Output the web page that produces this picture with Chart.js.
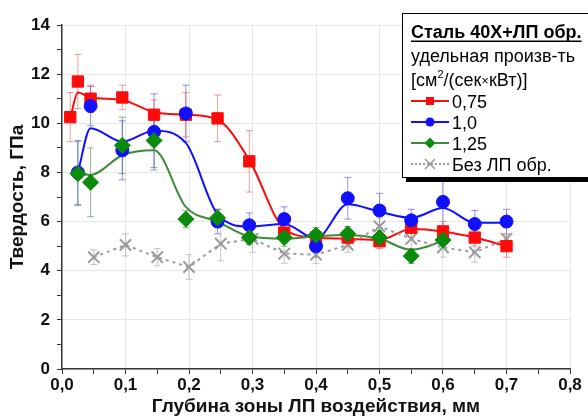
<!DOCTYPE html>
<html>
<head>
    <title>Твердость</title>
    <script src="https://cdn.jsdelivr.net/npm/chart.js"></script>
    <style>
        body { margin: 0; background: #fff; }
    </style>
</head>
<body>
    <canvas id="hardChart" width="588" height="418"></canvas>
    <script>
        // depth, mm
        const redX   = [0.013, 0.025, 0.045, 0.095, 0.145, 0.195, 0.245, 0.295, 0.35, 0.4, 0.45, 0.5, 0.55, 0.6, 0.65, 0.7];
        const redY   = [10.25, 11.7, 11.0, 11.05, 10.35, 10.35, 10.2, 8.45, 5.55, 5.35, 5.35, 5.2, 5.75, 5.6, 5.35, 5.0];
        const redErr = [1.0, 1.1, 0.55, 0.5, 0.6, 0.9, 0.95, 1.25, 0.35, 0.3, 0.35, 0.3, 0.4, 0.4, 0.35, 0.45];
        const redFit = [10.2, 11.25, 11.05, 10.95, 10.45, 10.35, 10.15, 8.5, 5.7, 5.35, 5.3, 5.25, 5.7, 5.6, 5.35, 5.0];

        const blueX   = [0.025, 0.045, 0.095, 0.145, 0.195, 0.245, 0.295, 0.35, 0.4, 0.45, 0.5, 0.55, 0.6, 0.65, 0.7];
        const blueY   = [8.0, 10.7, 8.9, 9.65, 10.4, 6.0, 5.85, 6.1, 5.0, 6.95, 6.45, 6.05, 6.8, 5.9, 6.0];
        const blueErr = [1.3, 0.8, 1.2, 1.55, 1.15, 0.5, 0.5, 0.5, 0.45, 0.85, 0.7, 0.45, 1.2, 0.55, 0.5];
        const blueFit = [8.0, 9.8, 9.25, 9.7, 9.2, 6.3, 5.8, 5.9, 5.3, 6.7, 6.4, 6.15, 6.55, 5.95, 5.95];

        const greenX   = [0.025, 0.045, 0.095, 0.145, 0.195, 0.245, 0.295, 0.35, 0.4, 0.45, 0.5, 0.55, 0.6];
        const greenY   = [7.95, 7.6, 9.1, 9.3, 6.1, 6.15, 5.35, 5.35, 5.45, 5.5, 5.35, 4.6, 5.25];
        const greenErr = [1.3, 1.4, 1.15, 1.1, 0.35, 0.35, 0.3, 0.35, 0.3, 0.3, 0.3, 0.3, 0.35];
        const greenFit = [7.95, 7.9, 8.7, 8.9, 6.6, 6.0, 5.4, 5.3, 5.4, 5.45, 5.3, 4.85, 5.2];

        const grayX   = [0.05, 0.1, 0.15, 0.2, 0.25, 0.3, 0.35, 0.4, 0.45, 0.5, 0.55, 0.6, 0.65, 0.7];
        const grayY   = [4.55, 5.05, 4.55, 4.15, 5.1, 5.3, 4.7, 4.65, 5.05, 5.8, 5.3, 4.95, 4.75, 5.3];
        const grayErr = [0.3, 0.45, 0.35, 0.5, 0.7, 0.55, 0.4, 0.35, 0.3, 0.35, 0.45, 0.4, 0.4, 0.5];

        const legendTitle = 'Сталь 40Х+ЛП обр.';
        const legendSub1 = 'удельная произв-ть';
        const legendLabels = ['0,75', '1,0', '1,25', 'Без ЛП обр.'];

        const RED = '#ff0a0a', BLUE = '#1010ff', GREEN = '#0b8a0b', GREENLINE = '#3f8a3a', GRAY = '#9a9a9a';
        const FONT = "'Liberation Sans', Arial, sans-serif";

        const pts = (xs, ys) => xs.map((x, i) => ({ x: x, y: ys[i] }));

        const errorBars = {
            id: 'errorBars',
            beforeDatasetsDraw(chart) {
                const ctx = chart.ctx, ys = chart.scales.y;
                chart.data.datasets.forEach((ds, i) => {
                    if (!ds.errors) return;
                    const meta = chart.getDatasetMeta(i);
                    ctx.save();
                    ctx.strokeStyle = ds.errColor;
                    ctx.lineWidth = 1;
                    meta.data.forEach((el, j) => {
                        const v = ds.data[j].y, e = ds.errors[j];
                        const top = ys.getPixelForValue(v + e), bot = ys.getPixelForValue(v - e);
                        ctx.beginPath();
                        ctx.moveTo(el.x, top); ctx.lineTo(el.x, bot);
                        ctx.moveTo(el.x - 3.5, top); ctx.lineTo(el.x + 3.5, top);
                        ctx.moveTo(el.x - 3.5, bot); ctx.lineTo(el.x + 3.5, bot);
                        ctx.stroke();
                    });
                    ctx.restore();
                });
            }
        };

        function marker(ctx, style, x, y, color) {
            ctx.save();
            ctx.fillStyle = color;
            ctx.strokeStyle = color;
            ctx.beginPath();
            if (style === 'rect') {
                ctx.fillRect(x - 4, y - 4, 8, 8);
            } else if (style === 'circle') {
                ctx.arc(x, y, 4.5, 0, Math.PI * 2); ctx.fill();
            } else if (style === 'rectRot') {
                ctx.moveTo(x, y - 5.5); ctx.lineTo(x + 5.5, y); ctx.lineTo(x, y + 5.5); ctx.lineTo(x - 5.5, y); ctx.closePath(); ctx.fill();
            } else {
                ctx.lineWidth = 1.5;
                ctx.moveTo(x - 5, y - 5); ctx.lineTo(x + 5, y + 5);
                ctx.moveTo(x + 5, y - 5); ctx.lineTo(x - 5, y + 5); ctx.stroke();
            }
            ctx.restore();
        }

        const boxLegend = {
            id: 'boxLegend',
            afterDraw(chart) {
                const ctx = chart.ctx;
                const bx = 402, by = 13, bw = 200, bh = 164;
                ctx.save();
                ctx.fillStyle = '#000';
                ctx.fillRect(bx + 4, by + 5, bw, bh);
                ctx.fillStyle = '#fff';
                ctx.fillRect(bx, by, bw, bh);
                ctx.strokeStyle = '#000';
                ctx.lineWidth = 1;
                ctx.strokeRect(bx + 0.5, by + 0.5, bw, bh);

                const tx = 411;
                ctx.fillStyle = '#000';
                ctx.textBaseline = 'alphabetic';
                ctx.font = 'bold 18px ' + FONT;
                ctx.fillText(legendTitle, tx, 38);
                const tw = ctx.measureText(legendTitle).width;
                ctx.fillRect(tx, 40.5, tw, 1.5);

                ctx.font = '18px ' + FONT;
                ctx.fillText(legendSub1, tx, 62);
                let cx = tx;
                ctx.fillText('[см', cx, 86); cx += ctx.measureText('[см').width;
                ctx.font = '11px ' + FONT;
                ctx.fillText('2', cx, 78); cx += ctx.measureText('2').width;
                ctx.font = '18px ' + FONT;
                ctx.fillText('/(сек', cx, 86); cx += ctx.measureText('/(сек').width;
                ctx.font = '13px ' + FONT;
                ctx.fillText('×', cx, 85); cx += ctx.measureText('×').width;
                ctx.font = '18px ' + FONT;
                ctx.fillText('кВт)]', cx, 86);

                const rows = [
                    { c: RED, s: 'rect', dash: [] },
                    { c: BLUE, s: 'circle', dash: [] },
                    { c: GREENLINE, s: 'rectRot', dash: [], mc: GREEN },
                    { c: GRAY, s: 'crossRot', dash: [2, 2] }
                ];
                rows.forEach((r, i) => {
                    const y = 101 + i * 21;
                    ctx.save();
                    ctx.strokeStyle = r.c;
                    ctx.lineWidth = 2;
                    ctx.setLineDash(r.dash);
                    ctx.beginPath();
                    ctx.moveTo(tx, y); ctx.lineTo(tx + 38, y);
                    ctx.stroke();
                    ctx.restore();
                    marker(ctx, r.s, tx + 19, y, r.mc || r.c);
                    ctx.fillStyle = '#000';
                    ctx.font = '18px ' + FONT;
                    ctx.fillText(legendLabels[i], tx + 41, y + 7);
                });
                ctx.restore();
            }
        };

        const ctx = document.getElementById('hardChart').getContext('2d');
        const chart = new Chart(ctx, {
            type: 'line',
            data: {
                datasets: [
                    { data: pts(greenX, greenY), showLine: false, errors: greenErr, errColor: 'rgba(60,120,60,0.55)',
                      pointStyle: 'rectRot', pointRadius: 8, pointBackgroundColor: GREEN, pointBorderColor: GREEN, order: 0 },
                    { data: pts(blueX, blueY), showLine: false, errors: blueErr, errColor: 'rgba(40,40,220,0.5)',
                      pointStyle: 'circle', pointRadius: 6.5, pointBackgroundColor: BLUE, pointBorderColor: BLUE, order: 1 },
                    { data: pts(redX, redY), showLine: false, errors: redErr, errColor: 'rgba(230,60,60,0.5)',
                      pointStyle: 'rect', pointRadius: 8, pointBackgroundColor: RED, pointBorderColor: RED, order: 2 },
                    { data: pts(grayX, grayY), errors: grayErr, errColor: 'rgba(150,150,150,0.55)',
                      borderColor: GRAY, borderWidth: 2, borderDash: [3, 4], tension: 0,
                      pointStyle: 'crossRot', pointRadius: 8, pointBorderWidth: 2, pointBorderColor: GRAY, order: 3 },
                    { data: pts(greenX, greenFit), borderColor: GREENLINE, borderWidth: 2, pointRadius: 0,
                      cubicInterpolationMode: 'monotone', order: 4 },
                    { data: pts(blueX, blueFit), borderColor: BLUE, borderWidth: 2, pointRadius: 0,
                      cubicInterpolationMode: 'monotone', order: 5 },
                    { data: pts(redX, redFit), borderColor: RED, borderWidth: 2, pointRadius: 0,
                      cubicInterpolationMode: 'monotone', order: 6 }
                ]
            },
            options: {
                responsive: false,
                animation: false,
                layout: { padding: { top: 25, right: 18, left: 6, bottom: 0 } },
                plugins: { legend: { display: false }, tooltip: { enabled: false } },
                scales: {
                    x: {
                        type: 'linear', min: 0, max: 0.8,
                        afterFit: s => { s.height = 49; },
                        ticks: {
                            stepSize: 0.05, autoSkip: false, maxRotation: 0, padding: 1,
                            color: '#111', font: { family: FONT, size: 17, weight: 'bold' },
                            callback: v => (Math.round(v * 100) % 10 === 0) ? v.toFixed(1).replace('.', ',') : ''
                        },
                        grid: {
                            color: c => (c.tick && Math.round(c.tick.value * 100) % 10 === 0 && c.tick.value > 0) ? '#e6e6e6' : 'transparent',
                            tickColor: '#333', tickLength: 5, drawTicks: true
                        },
                        border: { color: '#333', width: 1.5 },
                        title: { display: true, text: 'Глубина зоны ЛП воздействия, мм', color: '#111',
                                 font: { family: FONT, size: 19, weight: 'bold' }, padding: { top: 0, bottom: 0 } }
                    },
                    y: {
                        min: 0, max: 14,
                        afterFit: s => { s.width = 56; },
                        ticks: {
                            stepSize: 1, autoSkip: false, padding: 7,
                            color: '#111', font: { family: FONT, size: 17, weight: 'bold' },
                            callback: v => (v % 2 === 0) ? v : ''
                        },
                        grid: {
                            color: c => (c.tick && c.tick.value % 2 === 0 && c.tick.value > 0) ? '#e6e6e6' : 'transparent',
                            tickColor: '#333', tickLength: 5
                        },
                        border: { color: '#333', width: 1.5 },
                        title: { display: true, text: 'Твердость, ГПа', color: '#111',
                                 font: { family: FONT, size: 19, weight: 'bold' }, padding: { top: 0, bottom: 0 } }
                    }
                }
            },
            plugins: [errorBars, boxLegend]
        });
    </script>
</body>
</html>
